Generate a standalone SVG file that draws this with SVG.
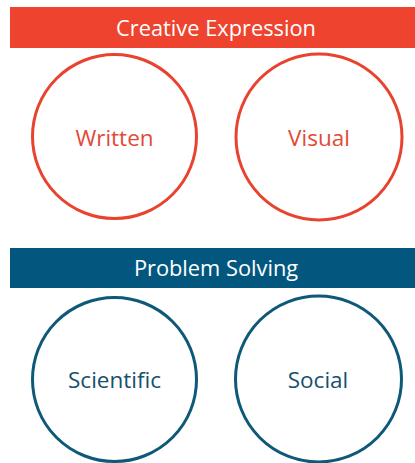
<svg xmlns="http://www.w3.org/2000/svg" width="415" height="463" viewBox="0 0 415 463">
<style>
.bar-r{fill:#EE432E}
.bar-b{fill:#03577F}
.hdr{font-family:"Open Sans","Liberation Sans",sans-serif;font-size:21.8px;fill:#fff;text-anchor:middle}
.c-r{fill:#fff;stroke:#E8432F;stroke-width:3}
.c-b{fill:#fff;stroke:#0E5878;stroke-width:3}
.lbl{font-family:"Open Sans","Liberation Sans",sans-serif;font-size:22.5px;text-anchor:middle}
.lr{fill:#E24A37}
.lb{fill:#17506C}
</style>
<rect width="415" height="463" fill="#fff"/>
<g id="creative-expression">
<rect class="bar-r" x="10" y="7" width="405" height="41"/>
<text class="hdr" x="216" y="36">Creative Expression</text>
</g>
<g id="written">
<circle class="c-r" cx="114.5" cy="136.5" r="82"/>
<text class="lbl lr" x="114.5" y="146">Written</text>
</g>
<g id="visual">
<circle class="c-r" cx="319" cy="137" r="83"/>
<text class="lbl lr" x="319" y="146">Visual</text>
</g>
<g id="problem-solving">
<rect class="bar-b" x="10" y="248" width="405" height="40"/>
<text class="hdr" x="216" y="276">Problem Solving</text>
</g>
<g id="scientific">
<circle class="c-b" cx="114.5" cy="379.5" r="82"/>
<text class="lbl lb" x="114.5" y="388">Scientific</text>
</g>
<g id="social">
<circle class="c-b" cx="318.5" cy="379" r="83"/>
<text class="lbl lb" x="318" y="388">Social</text>
</g>
<g id="connectors"/>
</svg>
